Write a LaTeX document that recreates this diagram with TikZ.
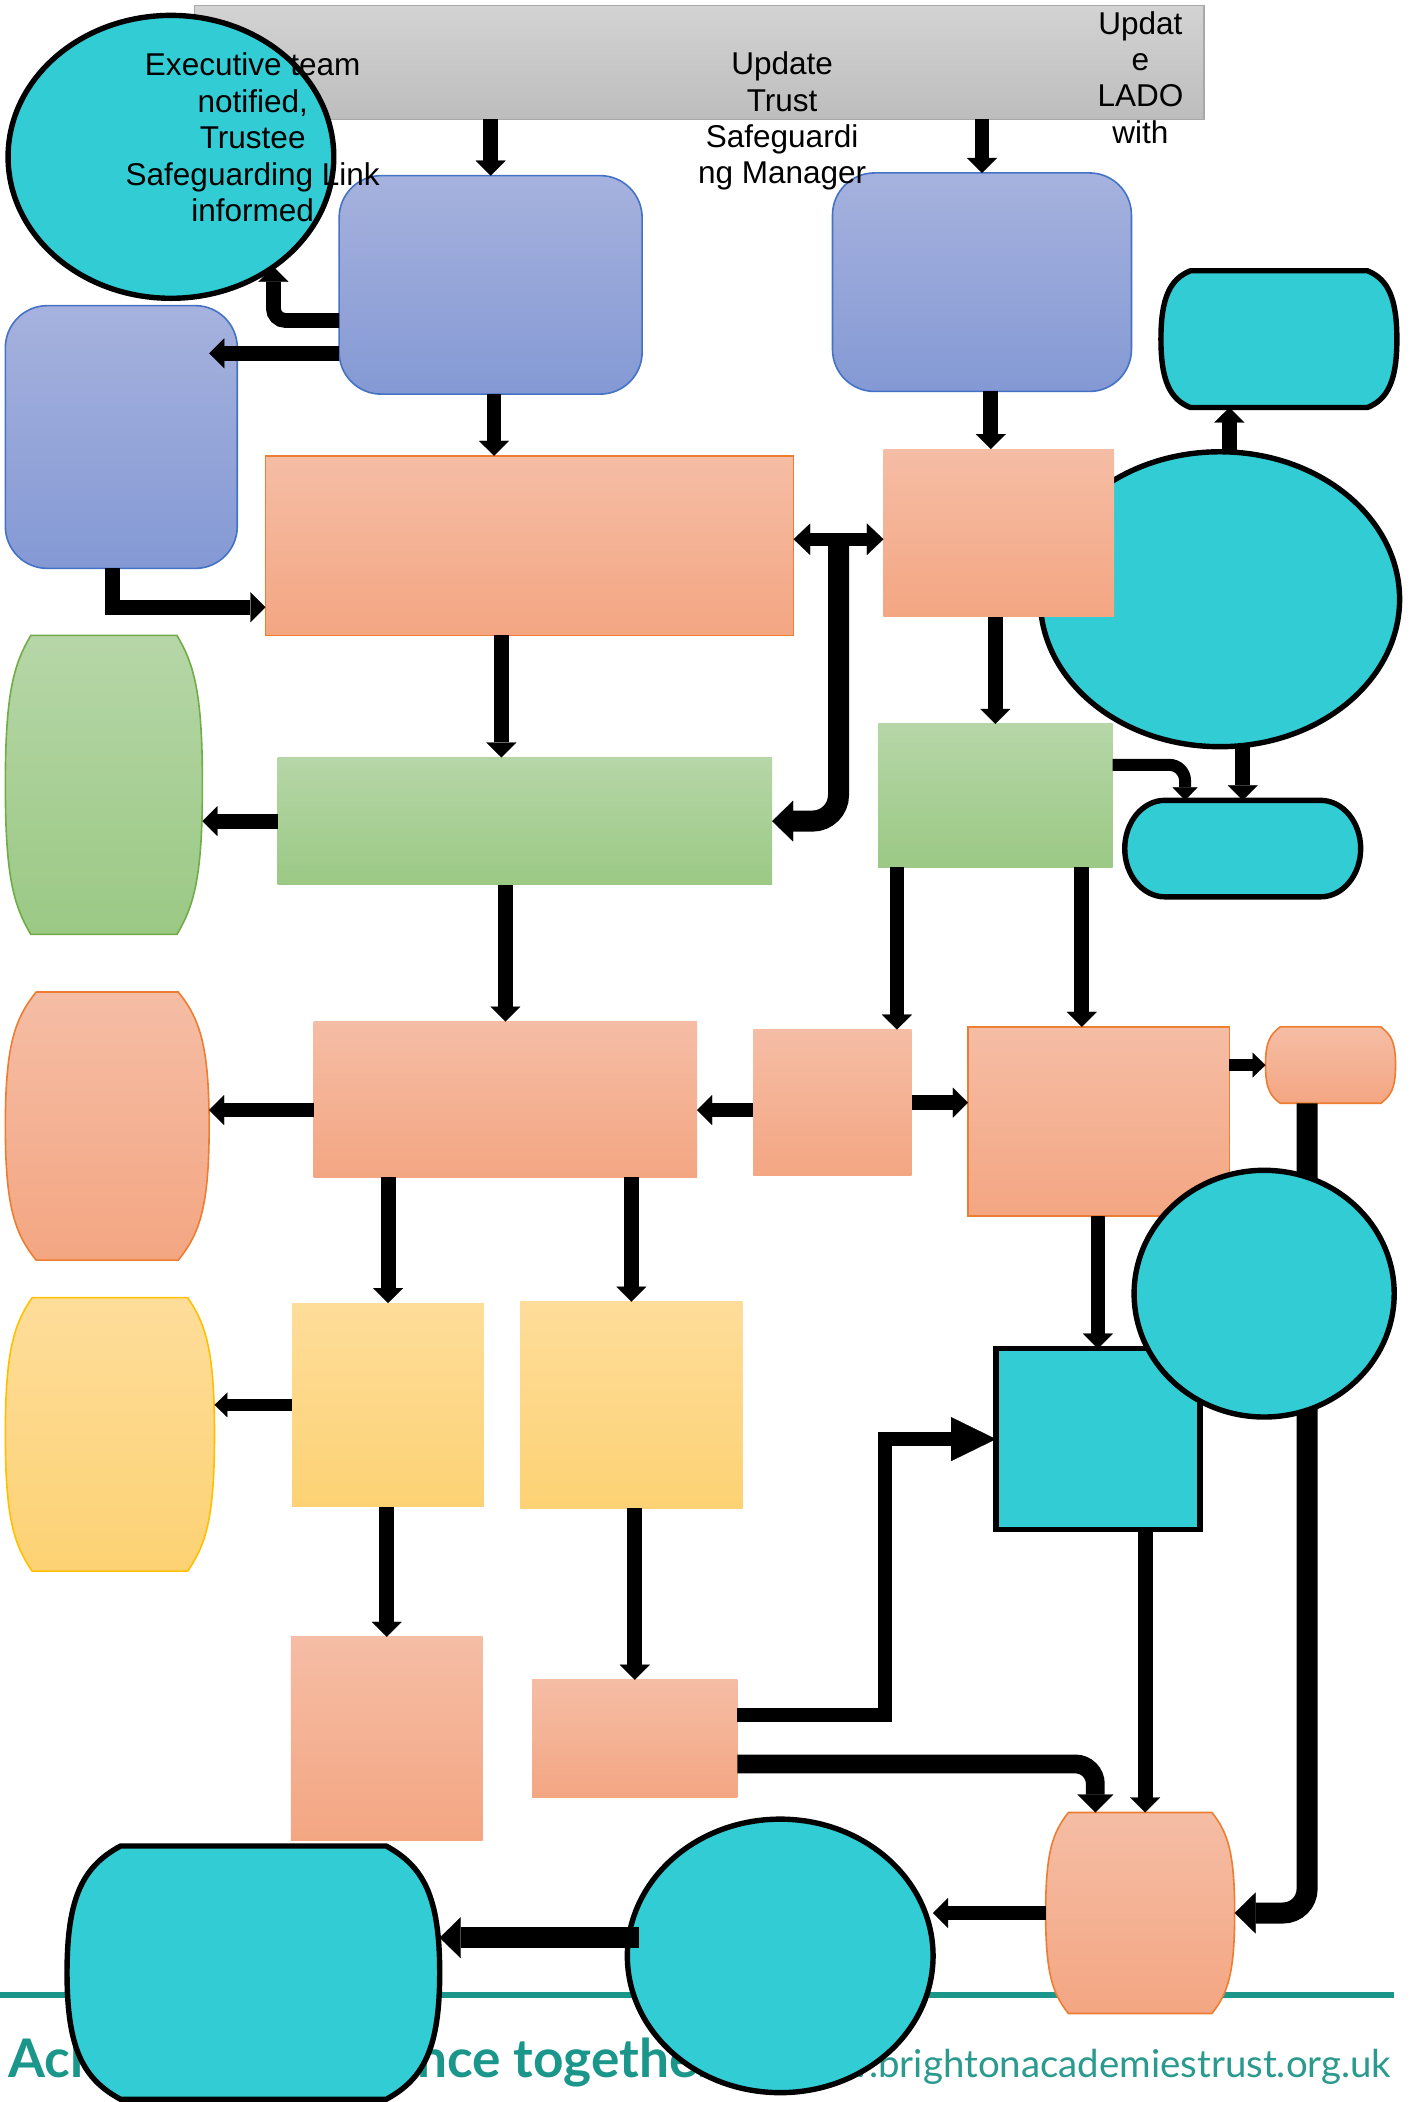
\documentclass[tikz,border=0pt]{standalone}
\usepackage{fontspec}
\setmainfont{Liberation Sans}
\newfontfamily\lato{Lato}
\usetikzlibrary{shapes.geometric,arrows.meta,calc}

\definecolor{cyanF}{HTML}{32CDD4}
\definecolor{blueTop}{HTML}{A6B2DE}
\definecolor{blueBot}{HTML}{8499D4}
\definecolor{blueLine}{HTML}{4472C4}
\definecolor{orTop}{HTML}{F5BDA5}
\definecolor{orBot}{HTML}{F4A682}
\definecolor{orLine}{HTML}{ED7D31}
\definecolor{grTop}{HTML}{B6D6A7}
\definecolor{grBot}{HTML}{9BC985}
\definecolor{grLine}{HTML}{70AD47}
\definecolor{yeTop}{HTML}{FEDD9A}
\definecolor{yeBot}{HTML}{FDD274}
\definecolor{yeLine}{HTML}{FFC000}
\definecolor{grayTop}{HTML}{D3D3D3}
\definecolor{grayBot}{HTML}{BDBDBD}
\definecolor{grayLine}{HTML}{A8A8A8}
\definecolor{tealT}{HTML}{1B968A}
\definecolor{tealU}{HTML}{2A9A8E}

% rectangle-like node from corner coordinates (units)
\newcommand\rectnode[6]{%
\pgfmathsetmacro\rcx{(#2+#4)/2}%
\pgfmathsetmacro\rcy{(#3+#5)/2}%
\pgfmathsetmacro\rw{(#4-#2)*0.67}%
\pgfmathsetmacro\rh{(#5-#3)*0.67}%
\node[box,minimum width=\rw pt,minimum height=\rh pt,#6] (#1) at (\rcx,\rcy) {};}

% barrel outline: x0 y0 x1 y1 d a b c style
\newcommand\barrelshape[9]{%
\pgfmathsetmacro\bM{(#2+#4)/2}%
\pgfmathsetmacro\bH{#4-#2}%
\path[#9] ({#1+#5},#2) -- ({#3-#5},#2)
 .. controls ({#3-#6*#5},{#2+#7*\bH}) and (#3,{\bM-#8*\bH}) .. (#3,\bM)
 .. controls (#3,{\bM+#8*\bH}) and ({#3-#6*#5},{#4-#7*\bH}) .. ({#3-#5},#4)
 -- ({#1+#5},#4)
 .. controls ({#1+#6*#5},{#4-#7*\bH}) and (#1,{\bM+#8*\bH}) .. (#1,\bM)
 .. controls (#1,{\bM-#8*\bH}) and ({#1+#6*#5},{#2+#7*\bH}) .. cycle;}

\begin{document}
\begin{tikzpicture}[x=0.67pt,y=-0.67pt,
  box/.style={inner sep=0pt,outer sep=0pt,draw=none},
  blueS/.style={rounded corners=21pt,top color=blueTop,bottom color=blueBot,draw=blueLine,line width=0.8pt},
  orS/.style={top color=orTop,bottom color=orBot},
  orSb/.style={orS,draw=orLine,line width=0.8pt},
  grS/.style={top color=grTop,bottom color=grBot},
  grSb/.style={grS,draw=grLine,line width=0.8pt},
  yeS/.style={top color=yeTop,bottom color=yeBot},
  yeSb/.style={yeS,draw=yeLine,line width=0.8pt},
  grayS/.style={top color=grayTop,bottom color=grayBot,draw=grayLine,line width=0.8pt},
  cyS/.style={fill=cyanF,draw=black,line width=2.7pt},
  lbl/.style={font=\fontsize{15.75}{18.2}\selectfont,align=center,inner sep=0pt,anchor=north},
  arrA/.style={draw=black,line width=7.4pt,-{Triangle[width=15pt,length=7.5pt,line width=0.1pt]}},
  arrB/.style={draw=black,line width=6pt,-{Triangle[width=12.5pt,length=6.5pt,line width=0.1pt]}},
  arrC/.style={draw=black,line width=10.5pt,-{Triangle[width=20.5pt,length=10.5pt,line width=0.1pt]}},
  arrCC/.style={draw=black,line width=9.4pt,-{Triangle[width=18pt,length=9pt,line width=0.1pt]}},
  arrBig/.style={draw=black,line width=7pt,-{Triangle[width=22pt,length=22.5pt,line width=0.1pt]}},
  arrDbl/.style={draw=black,line width=6.7pt,{Triangle[width=15.8pt,length=8.3pt,line width=0.1pt]}-{Triangle[width=15.8pt,length=8.3pt,line width=0.1pt]}}
]
\fill[white] (0,0) rectangle (1054,1568);
\path[use as bounding box] (0,0) rectangle (1054,1568);

% footer (behind)
\draw[tealT,line width=2.8pt] (0,1488) -- (1040,1488);
\node[anchor=base west,inner sep=0pt,text=tealT,font=\lato\bfseries\fontsize{26.6}{30}\selectfont] (motto) at (6,1550) {Achieving excellence together};
\node[anchor=base east,inner sep=0pt,text=tealU,font=\lato\fontsize{19.2}{22}\selectfont] (url) at (1038,1550) {www.brightonacademiestrust.org.uk};

% top band
\rectnode{gray}{145}{4}{898}{89}{grayS}
\node[box,ellipse,cyS,minimum width=162.8pt,minimum height=141.4pt] (ellTL) at (127.5,117) {};

% blue boxes
\rectnode{blue1}{253}{131}{479}{294}{blueS}
\rectnode{blue2}{621}{129}{844}{292}{blueS}
\rectnode{blue3}{4}{228}{177}{424}{blueS}

% right cyan shapes
\rectnode{cyanTR}{866}{202}{1042}{304}{}
\barrelshape{866}{202}{1042}{304}{22}{0.3}{0.06}{0.3}{cyS}
\node[box,ellipse,cyS,minimum width=179.6pt,minimum height=147.4pt] (ellR) at (910,447) {};

% row 2
\rectnode{orangeBig}{198}{340}{592}{474}{orSb}
\rectnode{orange2}{659}{335}{831}{460}{orS}

% row 3
\rectnode{greenBig}{207}{565}{576}{660}{grS}
\rectnode{greenBarrel}{4}{474}{151}{697}{}
\barrelshape{4}{474}{151}{697}{19}{0.3}{0.1}{0.3}{grSb}
\rectnode{greenR}{655}{540}{830}{647}{grS}
\rectnode{cyanSmall}{839}{597}{1015}{669}{}
\barrelshape{839}{597}{1015}{669}{30}{0.448}{0}{0.276}{cyS}

% row 4
\rectnode{orangeMid}{234}{762}{520}{878}{orS}
\rectnode{orangeBarrelMid}{4}{740}{156}{940}{}
\barrelshape{4}{740}{156}{940}{23}{0.3}{0.1}{0.3}{orSb}
\rectnode{orangeSmall}{562}{768}{680}{877}{orS}
\rectnode{orangeRight}{722}{766}{917}{907}{orSb}
\rectnode{orangeTiny}{944}{766}{1041}{823}{}
\barrelshape{944}{766}{1041}{823}{11}{0.3}{0.1}{0.3}{orSb}
\rectnode{cyanSq}{743}{1006}{895}{1141}{cyS}

% row 5
\rectnode{yellowBarrel}{4}{968}{160}{1172}{}
\barrelshape{4}{968}{160}{1172}{20}{0.3}{0.1}{0.3}{yeSb}
\rectnode{yellow1}{218}{972}{361}{1124}{yeS}
\rectnode{yellow2}{388}{971}{554}{1125}{yeS}

% row 6
\rectnode{orangeBL}{217}{1221}{360}{1373}{orS}
\rectnode{orangeBM}{397}{1253}{550}{1341}{orS}
\rectnode{orangeBR}{780}{1352}{921}{1502}{}
\barrelshape{780}{1352}{921}{1502}{17}{0.3}{0.1}{0.3}{orSb}
\node[box,ellipse,cyS,minimum width=152.8pt,minimum height=136.7pt] (ellBM) at (582,1459) {};
\rectnode{cyanBig}{50}{1377}{328}{1566}{}
\barrelshape{50}{1377}{328}{1566}{40}{0.3}{0.08}{0.3}{cyS}

% connectors
\draw[arrA] (blue1.north |- gray.south) -- (blue1.north);
\draw[arrA] (blue2.north |- gray.south) -- (blue2.north);
\draw[arrA,rounded corners=6pt] ([yshift=-17.8pt]blue1.west) -| (ellTL.-47.6);
\draw[arrA] ([yshift=-34.2pt]blue1.west) -- ([yshift=-34.2pt,xshift=-14pt]blue1.west -| blue3.east);
\draw[arrA] ([xshift=1.7pt]blue1.south) -- ([xshift=1.7pt]blue1.south |- orangeBig.north);
\draw[arrA] ([xshift=-4.4pt]blue3.south) |- ([yshift=-30.8pt]orangeBig.west);
\draw[arrA] ([xshift=4.4pt]blue2.south) -- ([xshift=4.4pt]blue2.south |- orange2.north);
\coordinate (dbl) at ($(orangeBig.east)!0.5!(orange2.west)$);
\draw[arrC,rounded corners=13pt] (dbl) |- (greenBig.east);
\draw[arrDbl] (orangeBig.east |- dbl) -- (orange2.west |- dbl);
\draw[arrA] ([xshift=4.7pt]ellR.north) -- ([xshift=4.7pt]ellR.north |- cyanTR.south);
\draw[arrA] (greenR.north |- orange2.south) -- (greenR.north);
\draw[arrA] ([xshift=-11.7pt]greenBig.north |- orangeBig.south) -- ([xshift=-11.7pt]greenBig.north);
\draw[arrA] (greenBig.west) -- (greenBig.west -| greenBarrel.east);
\draw[arrA] (cyanSmall.north |- ellR.south) -- (cyanSmall.north);
\draw[arrB,rounded corners=8pt] ([yshift=15.4pt]greenR.east) -| ([xshift=-28.8pt]cyanSmall.north);
\draw[arrA] (orangeMid.north |- greenBig.south) -- (orangeMid.north);
\draw[arrA] ([xshift=32.2pt]orangeSmall.north |- greenR.south) -- ([xshift=32.2pt]orangeSmall.north);
\draw[arrA] ([xshift=-8.4pt]orangeRight.north |- greenR.south) -- ([xshift=-8.4pt]orangeRight.north);
\draw[arrA] ([yshift=-5.4pt]orangeMid.west) -- ([yshift=-5.4pt]orangeMid.west -| orangeBarrelMid.east);
\draw[arrA] ([yshift=-3.7pt]orangeSmall.west) -- ([yshift=-3.7pt]orangeSmall.west -| orangeMid.east);
\draw[arrA] (orangeSmall.east) -- (orangeSmall.east -| orangeRight.west);
\draw[arrB] (orangeRight.east |- orangeTiny.west) -- (orangeTiny.west);
\draw[arrC,rounded corners=12pt] ([xshift=-11.7pt]orangeTiny.south) |- (orangeBR.east);
\draw[arrA] (cyanSq.north |- orangeRight.south) -- (cyanSq.north);
\draw[arrA] (yellow1.north |- orangeMid.south) -- (yellow1.north);
\draw[arrA] (yellow2.north |- orangeMid.south) -- (yellow2.north);
\draw[arrB] (yellow1.west) -- (yellow1.west -| yellowBarrel.east);
\draw[arrA] (orangeBL.north |- yellow1.south) -- (orangeBL.north);
\draw[arrA] (orangeBM.north |- yellow2.south) -- (orangeBM.north);
\draw[arrBig] ([yshift=12pt]orangeBM.east) -| ([xshift=-55.3pt]cyanSq.west) -- (cyanSq.west);
\draw[arrCC,rounded corners=10pt] ([yshift=-12.6pt]orangeBM.east) -| ([xshift=-22.4pt]orangeBR.north);
\draw[arrA] ([xshift=23.6pt]cyanSq.south) -- ([xshift=23.6pt]cyanSq.south |- orangeBR.north);
\draw[arrA] (orangeBR.west) -- (orangeBR.west -| ellBM.east);
\draw[arrC] ([xshift=6pt,yshift=9.1pt]ellBM.west) -- ([yshift=9.1pt]ellBM.west -| cyanBig.east);

% circle on top of the long connector
\node[box,ellipse,cyS,minimum width=130pt,minimum height=123.3pt] (circ) at (943,965) {};

% texts
\node[lbl] (tExec) at (188.5,39.2) {Executive team\\notified,\\Trustee\\Safeguarding Link\\informed};
\node[lbl] (tTrust) at (583.4,38.4) {Update\\Trust\\Safeguardi\\ng Manager};
\node[lbl] (tLado) at (850.7,8.1) {Updat\\e\\LADO\\with};
\end{tikzpicture}
\end{document}
